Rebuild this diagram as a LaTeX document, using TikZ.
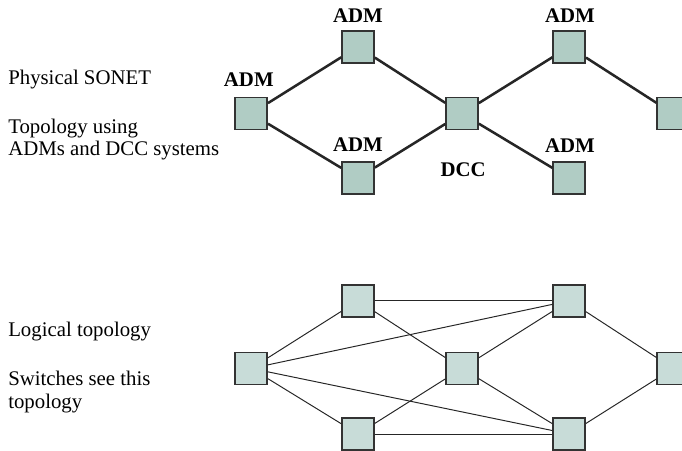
\documentclass[tikz,border=0pt]{standalone}
\usepackage{fontspec}
\setmainfont{Liberation Serif}
\usepackage{xcolor}
\usetikzlibrary{positioning}

\definecolor{boxdark}{RGB}{176,204,196}
\definecolor{boxlight}{RGB}{200,220,216}

\begin{document}
\begin{tikzpicture}[font=\fontsize{14.8}{16.2}\selectfont,
  box/.style={draw=black!80,line width=1.1pt,minimum size=0.8cm,inner sep=0pt},
  phys/.style={box,fill=boxdark},
  logi/.style={box,fill=boxlight},
  ring/.style={line width=1.8pt,black!85},
  mesh/.style={line width=0.7pt,black!85},
  lbl/.style={font=\fontsize{14.8}{16.2}\selectfont\bfseries,anchor=base}]
  \useasboundingbox (0,0) rectangle (17.05,11.25);
  \clip (0,0) rectangle (17.05,11.25);
  % physical topology
  \node[phys] (admL)  at (6.28,8.41)  {};
  \node[phys] (admT)  at (8.95,10.08) {};
  \node[phys] (admB)  at (8.95,6.80)  {};
  \node[phys] (dcc)   at (11.55,8.41) {};
  \node[phys] (admTR) at (14.23,10.08) {};
  \node[phys] (admBR) at (14.23,6.80) {};
  \node[phys] (admR)  at (16.83,8.41) {};
  \draw[ring] (admL) -- (admT) -- (dcc) -- (admTR) -- (admR);
  \draw[ring] (admL) -- (admB) -- (dcc) -- (admBR);
  \node[lbl] at (8.95,10.675) {ADM};
  \node[lbl] at (6.22,9.075)  {ADM};
  \node[lbl] at (8.95,7.45)   {ADM};
  \node[lbl] at (14.25,10.675) {ADM};
  \node[lbl] at (14.25,7.425) {ADM};
  \node[lbl] at (11.58,6.825) {DCC};
  \node[anchor=base west,inner sep=0pt] (physTxt) at (0.2,9.125) {Physical SONET};
  \node[anchor=base west,inner sep=0pt,align=left] (topoTxt) at (0.2,7.35)
    {Topology using\\ADMs and DCC systems};
  % logical topology
  \node[logi] (logL)  at (6.28,2.04) {};
  \node[logi] (logTL) at (8.95,3.73) {};
  \node[logi] (logBL) at (8.95,0.40) {};
  \node[logi] (logM)  at (11.55,2.04) {};
  \node[logi] (logTR) at (14.23,3.73) {};
  \node[logi] (logBR) at (14.23,0.40) {};
  \node[logi] (logR)  at (16.83,2.04) {};
  \foreach \a/\b in {logL/logTL,logL/logBL,logL/logTR,logL/logBR,
                     logTL/logTR,logTL/logM,logBL/logM,logBL/logBR,
                     logM/logTR,logM/logBR,logTR/logR,logBR/logR}
    \draw[mesh] (\a) -- (\b);
  \node[anchor=base west,inner sep=0pt] (logTxt) at (0.2,2.825) {Logical topology};
  \node[anchor=base west,inner sep=0pt,align=left] (swTxt) at (0.2,1.05)
    {Switches see this\\topology};
\end{tikzpicture}
\end{document}
